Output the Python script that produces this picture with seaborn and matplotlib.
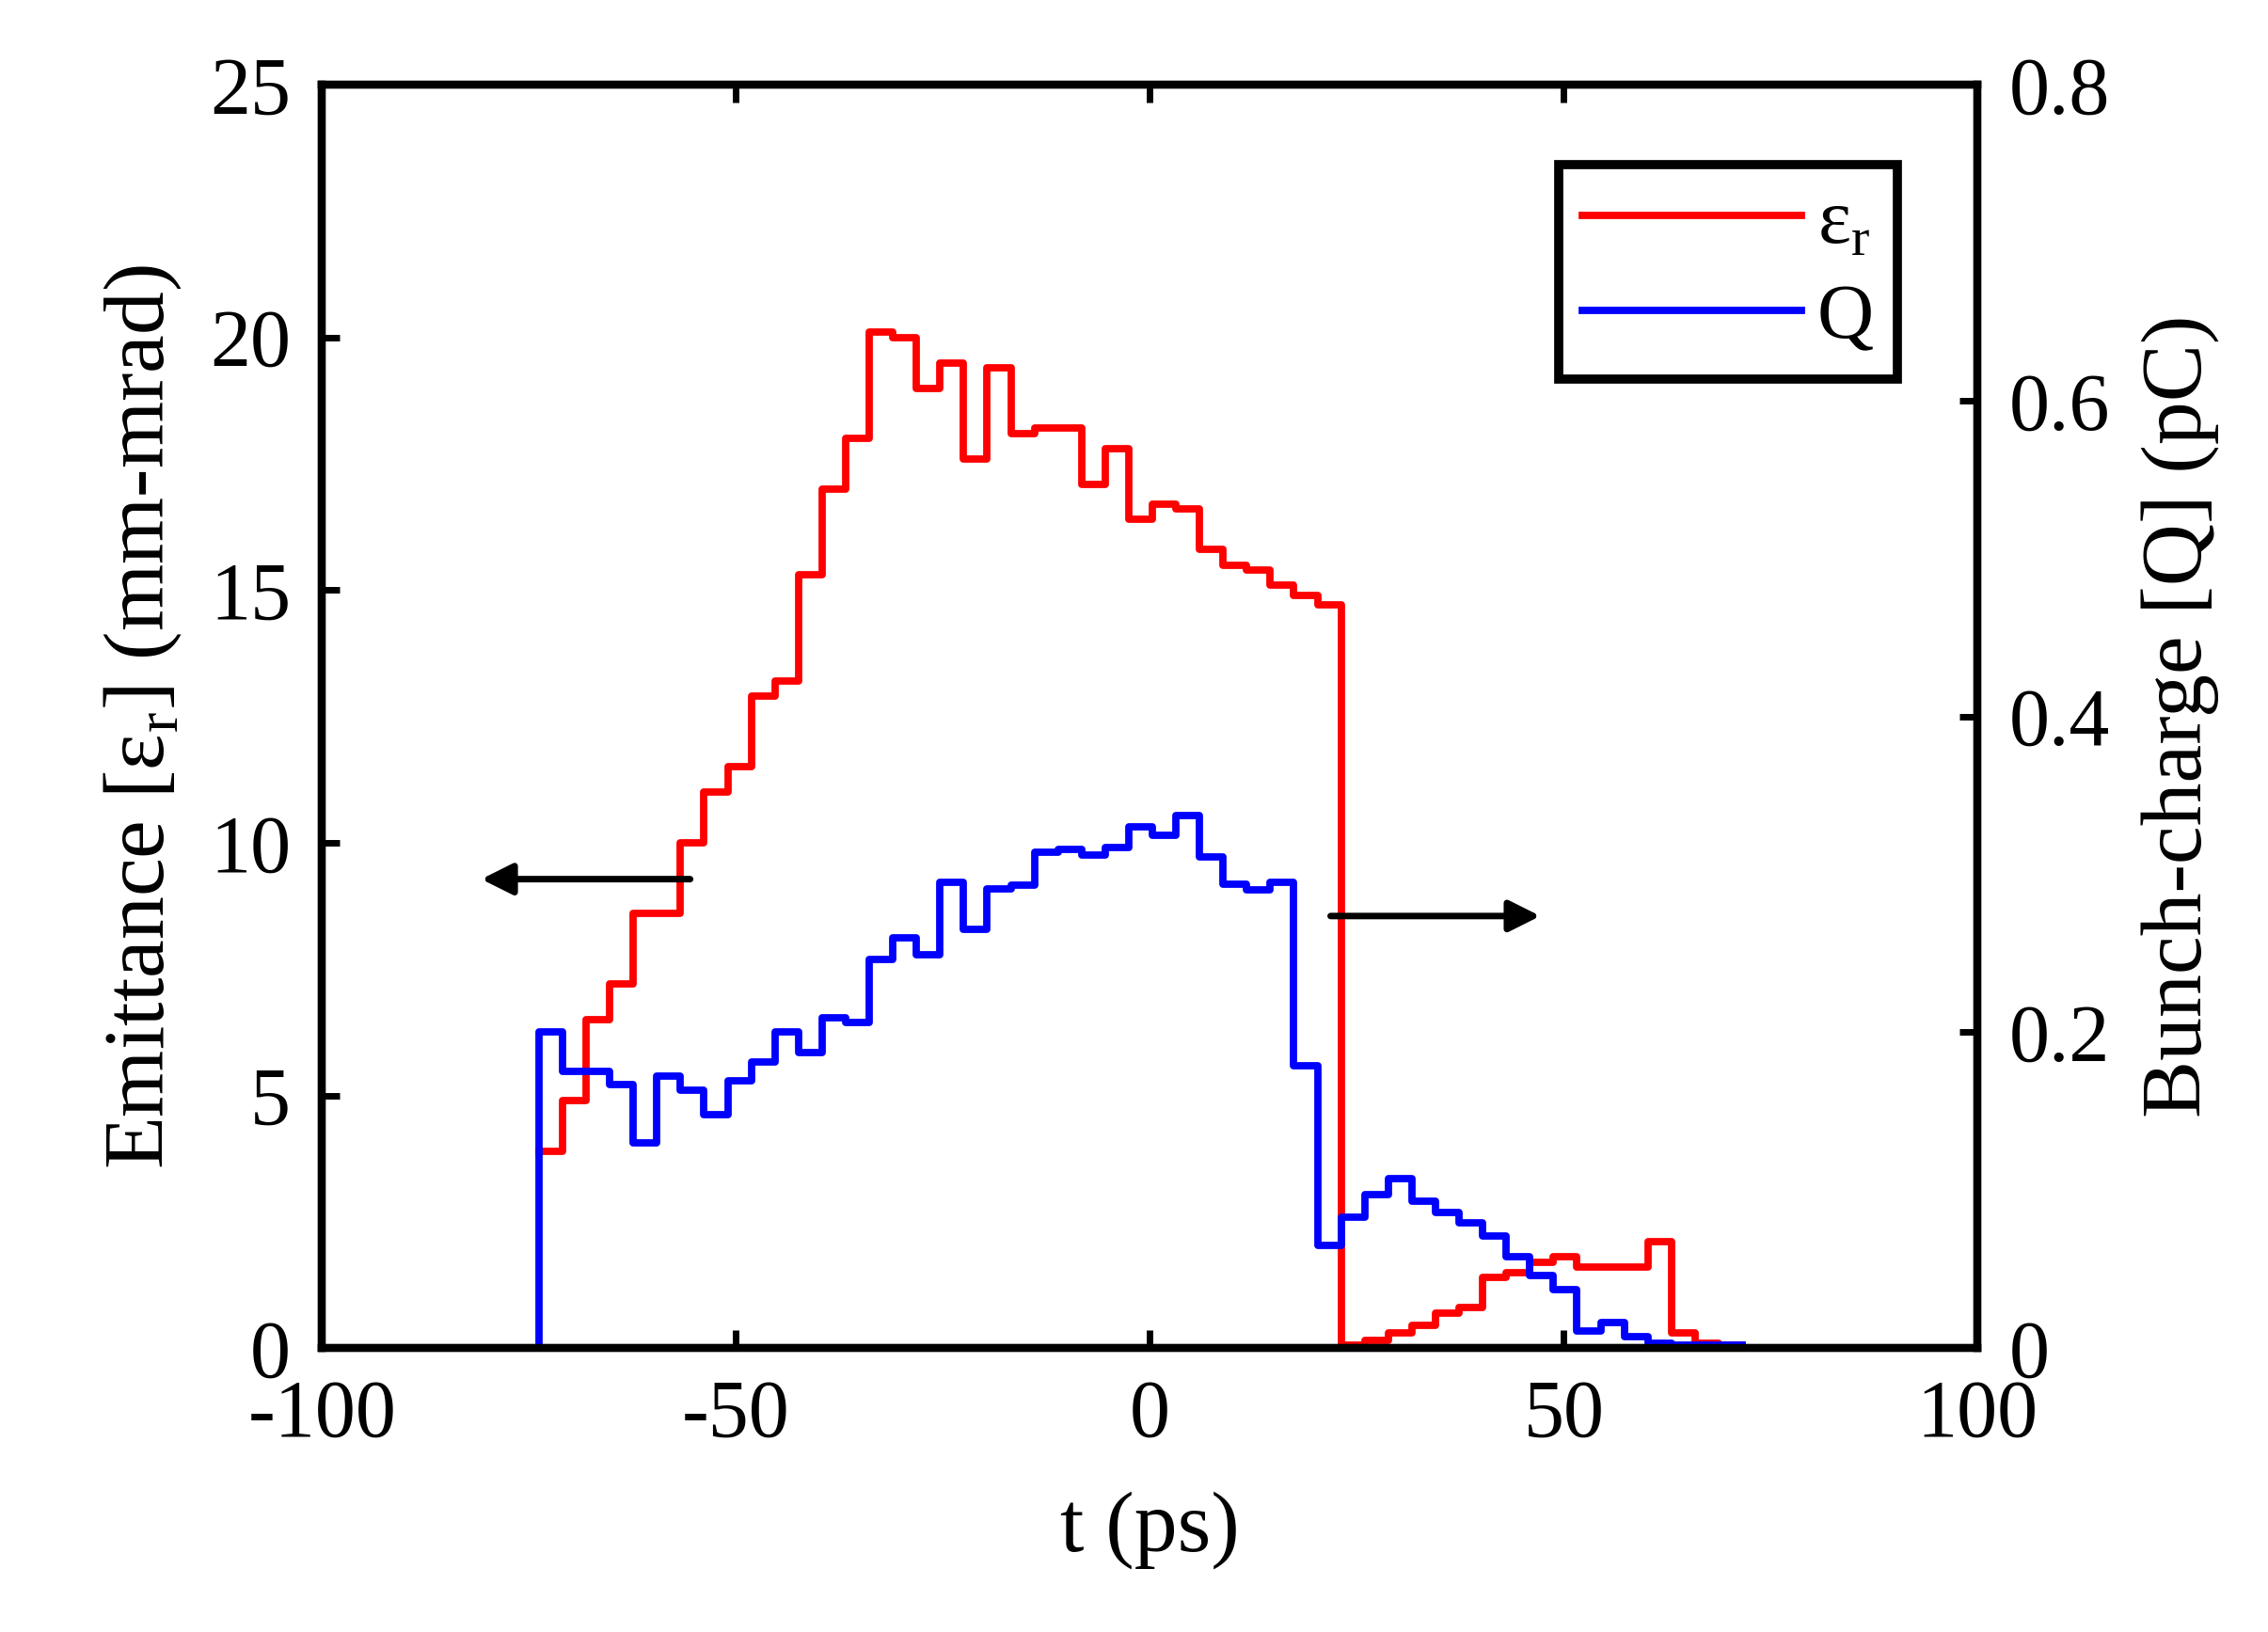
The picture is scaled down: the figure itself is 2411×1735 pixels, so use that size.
import numpy as np
import pandas as pd
import seaborn as sns
import matplotlib
matplotlib.use("Agg")
import matplotlib.pyplot as plt

t_start = -73.8
bin_width = 2.85
emittance = [3.9, 4.9, 6.5, 7.2, 8.6, 8.6, 10.0, 11.0, 11.5, 12.9, 13.2, 15.3, 17.0, 18.0,
             20.1, 20.0, 19.0, 19.5, 17.6, 19.4, 18.1, 18.2, 18.2, 17.1, 17.8, 16.4, 16.7,
             16.6, 15.8, 15.5, 15.4, 15.1, 14.9, 14.7, 0.05, 0.15, 0.3, 0.45, 0.7, 0.8, 1.4,
             1.5, 1.7, 1.8, 1.6, 1.6, 1.6, 2.1, 0.3, 0.1, 0.05]
charge = [0.20, 0.175, 0.175, 0.167, 0.13, 0.172, 0.163, 0.148, 0.169, 0.181, 0.2, 0.187,
          0.209, 0.206, 0.246, 0.26, 0.249, 0.295, 0.265, 0.291, 0.293, 0.314, 0.316, 0.312,
          0.317, 0.33, 0.325, 0.337, 0.311, 0.294, 0.29, 0.295, 0.179, 0.065, 0.083, 0.097,
          0.107, 0.093, 0.086, 0.079, 0.071, 0.058, 0.046, 0.037, 0.011, 0.016, 0.007,
          0.003, 0.002, 0.002, 0.002]

n = len(emittance)
edges = t_start + bin_width * np.arange(n + 1)
df_e = pd.DataFrame({"t": edges, "v": emittance + [emittance[-1]]})
df_q = pd.DataFrame({"t": np.concatenate([[t_start - 3], edges]),
                     "v": [0.0] + charge + [charge[-1]]})

plt.rcParams["font.family"] = "Liberation Serif"
plt.rcParams["mathtext.fontset"] = "custom"
plt.rcParams["mathtext.rm"] = "Liberation Serif"
plt.rcParams["axes.unicode_minus"] = False
fig = plt.figure(figsize=(12.055, 8.675), dpi=200)
ax = fig.add_axes([0.142, 0.174, 0.73, 0.774])
ax2 = ax.twinx()

eps = "ε$_\\mathrm{r}$"
sns.lineplot(data=df_e, x="t", y="v", ax=ax, color="#ff0000", lw=2.8,
             drawstyle="steps-post", label=eps, legend=False)
sns.lineplot(data=df_q, x="t", y="v", ax=ax2, color="#0000ff", lw=2.8,
             drawstyle="steps-post", label="Q", legend=False)

ax.set_xlim(-100, 100)
ax.set_ylim(0, 25)
ax2.set_ylim(0, 0.8)
ax.set_xticks([-100, -50, 0, 50, 100])
ax.set_yticks([0, 5, 10, 15, 20, 25])
ax2.set_yticks([0, 0.2, 0.4, 0.6, 0.8])
ax2.set_yticklabels(["0", "0.2", "0.4", "0.6", "0.8"])
ax.set_xlabel("t (ps)", fontsize=33, labelpad=14)
ax.set_ylabel("Emittance [" + eps + "] (mm-mrad)", fontsize=33, labelpad=10)
ax2.set_ylabel("Bunch-charge [Q] (pC)", fontsize=33, labelpad=12)
for a in (ax, ax2):
    a.tick_params(labelsize=31, width=2.5, length=7, direction="in", top=True, pad=12)
    for s in a.spines.values():
        s.set_linewidth(3)

ax.annotate("", xy=(-81.4, 9.28), xytext=(-54.9, 9.28),
            arrowprops=dict(arrowstyle="-|>", color="black", lw=2.5, mutation_scale=25))
ax.annotate("", xy=(47.8, 8.55), xytext=(21.2, 8.55),
            arrowprops=dict(arrowstyle="-|>", color="black", lw=2.5, mutation_scale=25))

h1, l1 = ax.get_legend_handles_labels()
h2, l2 = ax2.get_legend_handles_labels()
leg = ax2.legend(h1 + h2, l1 + l2, loc="upper right", fontsize=30, fancybox=False,
                 edgecolor="black", framealpha=1, handlelength=2.8, handletextpad=0.2,
                 borderpad=0.3, labelspacing=0.3, bbox_to_anchor=(0.975, 0.968))
leg.get_frame().set_linewidth(3.5)

fig.savefig("out.png", dpi=200)
